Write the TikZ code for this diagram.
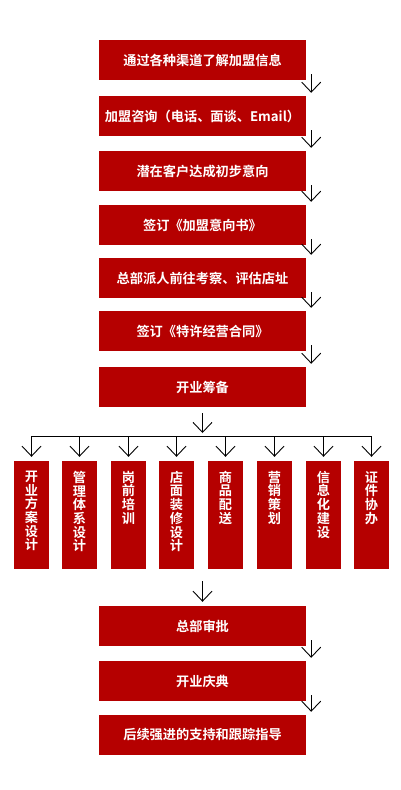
\documentclass[tikz,border=0pt]{standalone}
\usepackage{fontspec}
\setmainfont{Noto Sans CJK SC}[BoldFont={Noto Sans CJK SC Bold}]
\usetikzlibrary{arrows.meta}
\definecolor{boxred}{HTML}{B50000}
\begin{document}
\begin{tikzpicture}[x=1pt,y=-1pt,
  mainbox/.style={fill=boxred,draw=none,minimum width=207pt,minimum height=40pt,inner sep=0pt,
    text=white,font=\fontsize{13.2pt}{15pt}\selectfont\bfseries},
  colbox/.style={fill=boxred,draw=none,minimum width=35pt,minimum height=108pt,inner sep=0pt,
    text=white,font=\fontsize{13.2pt}{13.7pt}\selectfont\bfseries},
  arr/.style={draw=black,line width=0.9pt,-{Straight Barb[length=10pt,width=19pt,line width=0.9pt]}},
  hline/.style={draw=black,line width=1pt}]
\fill[white] (0,0) rectangle (400,790);
\useasboundingbox (0,0) rectangle (400,790);
% main boxes
\node[mainbox] (b1) at (202.5,60) {通过各种渠道了解加盟信息};
\node[mainbox] (b2) at (202.5,116) {加盟咨询（电话、面谈、Email）};
\node[mainbox] (b3) at (202.5,171) {潜在客户达成初步意向};
\node[mainbox] (b4) at (202.5,225) {签订《加盟意向书》};
\node[mainbox] (b5) at (202.5,278) {总部派人前往考察、评估店址};
\node[mainbox] (b6) at (202.5,331) {签订《特许经营合同》};
\node[mainbox] (b7) at (202.5,387) {开业筹备};
\node[mainbox] (b8) at (202.5,626) {总部审批};
\node[mainbox] (b9) at (202.5,681) {开业庆典};
\node[mainbox] (b10) at (202.5,735) {后续强进的支持和跟踪指导};
% side arrows
\foreach \a/\b in {b1/b2,b2/b3,b3/b4,b4/b5,b5/b6,b6/b7,b8/b9,b9/b10}
  \draw[arr] ([xshift=5pt,yshift=6pt]\a.south east) -- ([xshift=5pt,yshift=3pt]\b.north east);
% columns
\newcommand{\coltext}[1]{\parbox[c][108pt][t]{35pt}{\centering\vspace*{10pt}#1}}
\node[colbox] (c1) at (31.5,515) {\coltext{开\\业\\方\\案\\设\\计}};
\node[colbox] (c2) at (79.5,515) {\coltext{管\\理\\体\\系\\设\\计}};
\node[colbox] (c3) at (128.5,515) {\coltext{岗\\前\\培\\训}};
\node[colbox] (c4) at (176.5,515) {\coltext{店\\面\\装\\修\\设\\计}};
\node[colbox] (c5) at (225.5,515) {\coltext{商\\品\\配\\送}};
\node[colbox] (c6) at (274.5,515) {\coltext{营\\销\\策\\划}};
\node[colbox] (c7) at (323.5,515) {\coltext{信\\息\\化\\建\\设}};
\node[colbox] (c8) at (371.5,515) {\coltext{证\\件\\协\\办}};
% distribution line
\coordinate (hl) at (31.5,436);
\coordinate (hr) at (371.5,436);
\draw[hline] (hl) -- (hr);
\draw[arr] ([yshift=-6pt]b7.south) -- ([yshift=3pt]b7.south |- hl);
\foreach \c in {c1,c2,c3,c4,c5,c6,c7,c8}
  \draw[arr] (\c.north |- hl) -- ([yshift=4pt]\c.north);
% arrow to approval
\coordinate (ga) at (202.5,581);
\draw[arr] (ga) -- ([yshift=4pt]b8.north);
\end{tikzpicture}
\end{document}
